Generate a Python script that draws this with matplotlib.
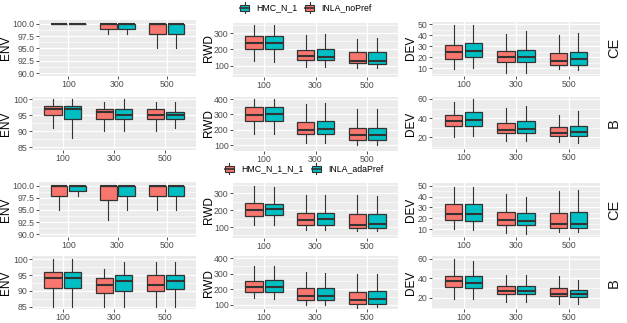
import matplotlib
matplotlib.use("Agg")
import matplotlib.pyplot as plt
from matplotlib.patches import Rectangle
from matplotlib.lines import Line2D
import numpy as np

plt.rcParams['font.family'] = ['Liberation Sans', 'DejaVu Sans']

sizes = ["100", "300", "500"]
metrics = ["ENV", "RWD", "DEV"]
designs = ["CE", "B", "CE", "B"]

# [whisker_lo, q1, median, q3, whisker_hi] for n = 100, 300, 500
# ---- Block 1: INLA_noPref (salmon) vs HMC_N_1 (teal)
noPref_env_ce = [[100, 100, 100, 100, 100], [98, 99, 100, 100, 100], [95, 98, 100, 100, 100]]
hmc1_env_ce = [[100, 100, 100, 100, 100], [98, 99, 100, 100, 100], [95, 98, 100, 100, 100]]
noPref_env_b = [[91, 95, 97, 98, 100], [90, 94, 96, 97, 99], [90, 94, 95, 97, 99]]
hmc1_env_b = [[88, 94, 97, 98, 100], [90, 94, 95, 97, 100], [91, 94, 95, 96, 99]]
noPref_rwd_ce = [[130, 204, 240, 285, 350], [90, 136, 157, 198, 290], [85, 114, 130, 184, 265]]
hmc1_rwd_ce = [[125, 200, 237, 280, 350], [90, 135, 155, 200, 295], [85, 110, 130, 185, 270]]
noPref_rwd_b = [[170, 260, 295, 345, 400], [115, 170, 200, 250, 370], [105, 135, 165, 213, 335]]
hmc1_rwd_b = [[170, 260, 300, 345, 400], [115, 170, 205, 255, 375], [105, 135, 165, 215, 335]]
noPref_dev_ce = [[9, 18.5, 25, 31.5, 49], [6, 16, 20, 26, 41], [9, 13, 17, 24, 40]]
hmc1_dev_ce = [[10, 20, 26, 33, 49], [6, 16, 20.5, 27, 44], [8, 13, 18, 25, 42]]
noPref_dev_b = [[20, 32, 37, 43, 57], [16, 25, 28, 35, 51], [15, 22, 25, 31, 43]]
hmc1_dev_b = [[22, 32, 38, 46, 60], [16, 25, 29, 37, 53], [14, 22, 26, 32, 47]]

# ---- Block 2: HMC_N_1_N_1 (salmon) vs INLA_adaPref (teal)
hmcN1N1_env_ce = [[95, 98, 100, 100, 100], [93, 97, 100, 100, 100], [95, 98, 100, 100, 100]]
adaPref_env_ce = [[98, 99, 100, 100, 100], [95, 98, 100, 100, 100], [95, 98, 100, 100, 100]]
hmcN1N1_env_b = [[85, 91, 94, 96, 100], [85, 89.3, 92, 94, 97], [85, 90, 92, 95, 99]]
adaPref_env_b = [[85, 91, 94, 96, 100], [85, 90, 93, 95, 99], [85, 90.5, 93, 95, 99]]
hmcN1N1_rwd_ce = [[115, 165, 200, 243, 345], [85, 110, 141, 185, 290], [75, 95, 115, 175, 290]]
adaPref_rwd_ce = [[115, 170, 205, 240, 340], [85, 115, 145, 185, 290], [75, 95, 118, 175, 285]]
hmcN1N1_rwd_b = [[140, 180, 212, 253, 350], [95, 130, 155, 205, 310], [80, 105, 130, 185, 300]]
adaPref_rwd_b = [[135, 185, 215, 260, 350], [95, 130, 155, 205, 305], [85, 105, 135, 190, 300]]
hmcN1N1_dev_ce = [[10, 19, 24, 33, 49], [7, 14, 19, 26, 42], [8, 11.5, 15, 25, 45]]
adaPref_dev_ce = [[9, 18, 24, 33, 49], [6, 14, 18, 25, 40], [8, 11.5, 15, 26, 46]]
hmcN1N1_dev_b = [[19, 31, 37, 43, 60], [16, 24, 27, 32, 44], [14, 22, 24, 30, 42]]
adaPref_dev_b = [[19, 30, 35, 42, 58], [16, 24, 27, 32, 44], [14, 21, 24, 28, 38]]

legend1_labels = ["HMC_N_1", "INLA_noPref"]
legend2_labels = ["HMC_N_1_N_1", "INLA_adaPref"]

SALMON = "#F8766D"
TEAL = "#00BFC4"
EDGE = "#333333"

W, H = 627, 323
fig = plt.figure(figsize=(W / 100, H / 100), dpi=100)


def px_axes(x0, y0, x1, y1):
    return fig.add_axes([x0 / W, 1 - y1 / H, (x1 - x0) / W, (y1 - y0) / H])


def to_stats(rows):
    return [dict(whislo=r[0], q1=r[1], med=r[2], q3=r[3], whishi=r[4], fliers=[]) for r in rows]


def draw_panel(rect, left_stats, right_stats, ylim, ticks, fmt):
    ax = px_axes(*rect)
    ax.set_facecolor("#EBEBEB")
    for s in ax.spines.values():
        s.set_visible(False)
    ax.set_xlim(0.4, 3.6)
    ax.set_ylim(*ylim)
    ax.set_yticks(ticks)
    ax.set_yticklabels([fmt.format(t) for t in ticks])
    step = ticks[1] - ticks[0]
    minor = [t + step / 2 for t in [ticks[0] - step] + list(ticks)]
    minor = [m for m in minor if ylim[0] < m < ylim[1]]
    ax.set_yticks(minor, minor=True)
    ax.set_xticks([1, 2, 3])
    ax.set_xticklabels(sizes)
    ax.grid(which="major", color="white", lw=0.9)
    ax.grid(which="minor", axis="y", color="white", lw=0.45)
    ax.set_axisbelow(True)
    ax.tick_params(which="major", length=2, width=0.6, color="#333333",
                   labelsize=6.3, labelcolor="#4D4D4D", pad=1.2)
    ax.tick_params(which="minor", length=0)
    pos = np.arange(1, 4)
    for off, color, st in [(-0.19, SALMON, left_stats), (0.19, TEAL, right_stats)]:
        ax.bxp(to_stats(st), positions=pos + off, widths=0.34, patch_artist=True,
               showfliers=False, showcaps=False, manage_ticks=False,
               boxprops=dict(facecolor=color, edgecolor=EDGE, lw=0.9),
               medianprops=dict(color=EDGE, lw=1.5, solid_capstyle="butt"),
               whiskerprops=dict(color=EDGE, lw=0.8))
    return ax


env_ticks_ce = [90, 92.5, 95, 97.5, 100]
env_ticks_b = [85, 90, 95, 100]

# column 1 (ENV)
draw_panel((39, 20, 196, 76), noPref_env_ce, hmc1_env_ce, (89.4, 100.8), env_ticks_ce, "{:.1f}")
draw_panel((32, 97, 196, 150), noPref_env_b, hmc1_env_b, (84.2, 100.7), env_ticks_b, "{:.0f}")
draw_panel((39, 182, 196, 237), hmcN1N1_env_ce, adaPref_env_ce, (89.4, 100.8), env_ticks_ce, "{:.1f}")
draw_panel((32, 256, 196, 309), hmcN1N1_env_b, adaPref_env_b, (84.3, 101), env_ticks_b, "{:.0f}")

# column 2 (RWD)
draw_panel((233, 23, 398, 77), noPref_rwd_ce, hmc1_rwd_ce, (30, 362), [100, 200, 300], "{:.0f}")
draw_panel((233, 97, 398, 151), noPref_rwd_b, hmc1_rwd_b, (63, 413), [100, 200, 300, 400], "{:.0f}")
draw_panel((233, 183, 398, 238), hmcN1N1_rwd_ce, adaPref_rwd_ce, (35, 362), [100, 200, 300], "{:.0f}")
draw_panel((233, 256, 398, 309), hmcN1N1_rwd_b, adaPref_rwd_b, (72, 415), [100, 200, 300, 400], "{:.0f}")

# column 3 (DEV)
draw_panel((432, 22, 600, 76), noPref_dev_ce, hmc1_dev_ce, (3, 52), [10, 20, 30, 40, 50], "{:.0f}")
draw_panel((432, 97, 600, 149), noPref_dev_b, hmc1_dev_b, (8, 62), [20, 40, 60], "{:.0f}")
draw_panel((432, 183, 600, 237), hmcN1N1_dev_ce, adaPref_dev_ce, (3, 52.4), [10, 20, 30, 40, 50], "{:.0f}")
draw_panel((432, 256, 600, 309), hmcN1N1_dev_b, adaPref_dev_b, (8.7, 63), [20, 40, 60], "{:.0f}")

# axis titles
row_centers = [48, 123.5, 210, 283]
title_x = [6, 209, 411]
for ci, m in enumerate(metrics):
    for yc in row_centers:
        fig.text(title_x[ci] / W, 1 - yc / H, m, rotation=90, ha="center", va="center",
                 fontsize=8.5, color="black")

# strip labels
for d, yc in zip(designs, row_centers):
    fig.text(614 / W, 1 - yc / H, d, rotation=90, ha="center", va="center", fontsize=10.5, color="#1A1A1A")


def legend_key(xc, yc, color):
    bw, bh = 9, 6
    fig.patches.append(Rectangle(((xc - bw / 2) / W, 1 - (yc + bh / 2) / H), bw / W, bh / H,
                                 transform=fig.transFigure, facecolor=color, edgecolor=EDGE, lw=0.8))
    fig.lines.append(Line2D([xc / W, xc / W], [1 - (yc - 5.5) / H, 1 - (yc - bh / 2) / H],
                            transform=fig.transFigure, color=EDGE, lw=0.8))
    fig.lines.append(Line2D([xc / W, xc / W], [1 - (yc + bh / 2) / H, 1 - (yc + 5.5) / H],
                            transform=fig.transFigure, color=EDGE, lw=0.8))
    fig.lines.append(Line2D([(xc - bw / 2) / W, (xc + bw / 2) / W], [1 - yc / H, 1 - yc / H],
                            transform=fig.transFigure, color=EDGE, lw=1.2))


def legend_text(x, yc, s):
    fig.text(x / W, 1 - yc / H, s, ha="left", va="center", fontsize=6.3, color="black")


# legend 1
legend_key(244.5, 7.5, TEAL)
legend_text(256, 7.5, legend1_labels[0])
legend_key(309.5, 7.5, SALMON)
legend_text(321, 7.5, legend1_labels[1])
# legend 2
legend_key(229, 168.5, SALMON)
legend_text(241, 168.5, legend2_labels[0])
legend_key(316, 168.5, TEAL)
legend_text(328, 168.5, legend2_labels[1])

fig.savefig("out.png", dpi=100)
